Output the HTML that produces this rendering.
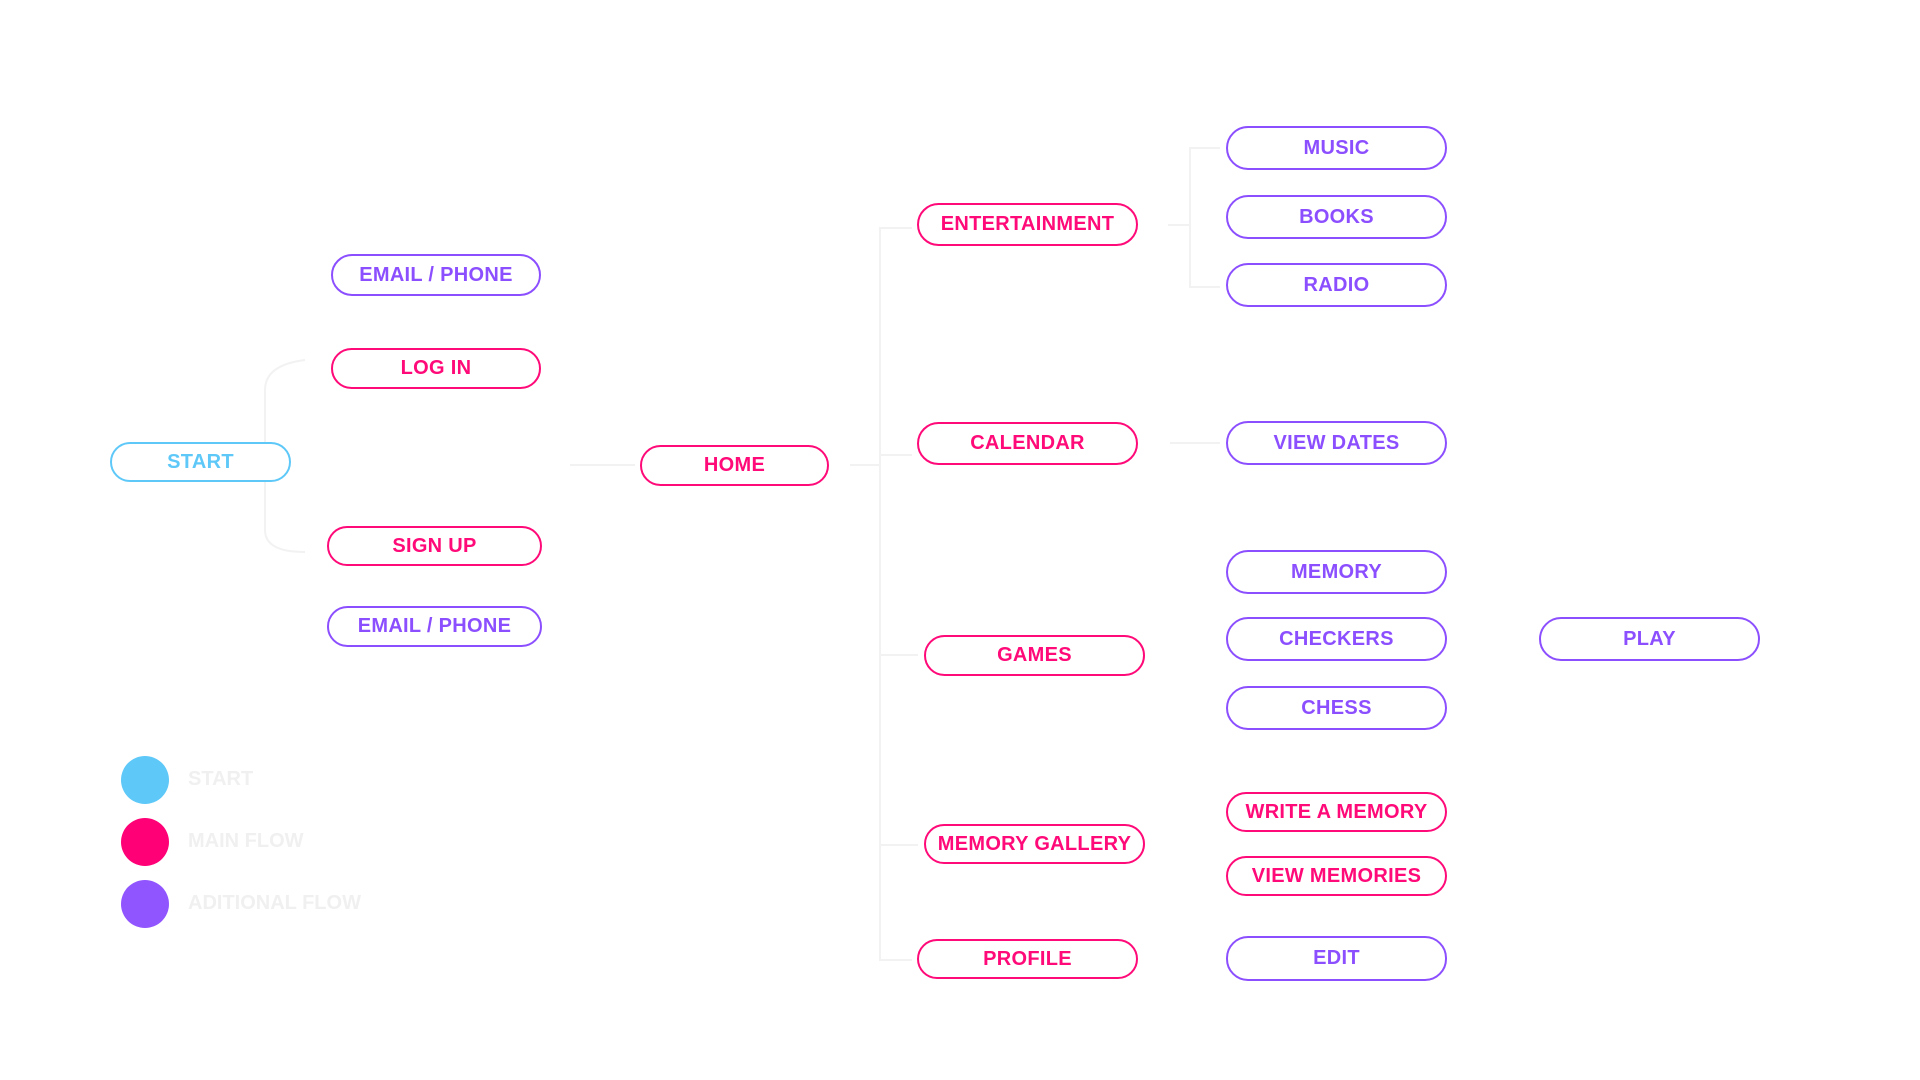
<!DOCTYPE html>
<html><head><meta charset="utf-8"><style>
body{margin:0;width:1920px;height:1080px;background:#fff;position:relative;overflow:hidden;font-family:"Liberation Sans",sans-serif}
.n{position:absolute;box-sizing:border-box;border:2.5px solid;border-radius:22px;display:flex;align-items:center;justify-content:center;font-weight:bold;font-size:20px;letter-spacing:0.3px}
.p{border-color:#ff0a78;color:#ff0a78}
.v{border-color:#8c4fff;color:#8c4fff}
.b{border-color:#5ec8f8;color:#5ec8f8}
.c{position:absolute;width:48px;height:48px;border-radius:50%}
.l{position:absolute;left:188px;font-size:20px;font-weight:bold;color:#f0f0f0}
svg{position:absolute;left:0;top:0}
</style></head><body>
<svg width="1920" height="1080" fill="none" stroke="#f2f2f2" stroke-width="2">
<path d="M265 442 V390 Q265 365 305 360"/><path d="M265 481 V530 Q265 552 305 552"/>
<path d="M570 465 H635"/><path d="M850 465 H880 V228 H912"/><path d="M880 455 H912"/><path d="M880 465 V655 H918"/><path d="M880 655 V845 H918"/><path d="M880 845 V960 H912"/>
<path d="M1168 225 H1190 V148 H1220"/><path d="M1190 225 V287 H1220"/><path d="M1170 443 H1220"/>
</svg>
<div class="n b" style="left:110px;top:442px;width:181px;height:40px">START</div>
<div class="n v" style="left:331px;top:254px;width:210px;height:42px">EMAIL / PHONE</div>
<div class="n p" style="left:331px;top:348px;width:210px;height:41px">LOG IN</div>
<div class="n p" style="left:327px;top:526px;width:215px;height:40px">SIGN UP</div>
<div class="n v" style="left:327px;top:606px;width:215px;height:41px">EMAIL / PHONE</div>
<div class="n p" style="left:640px;top:445px;width:189px;height:41px">HOME</div>
<div class="n p" style="left:917px;top:203px;width:221px;height:43px">ENTERTAINMENT</div>
<div class="n p" style="left:917px;top:422px;width:221px;height:43px">CALENDAR</div>
<div class="n p" style="left:924px;top:635px;width:221px;height:41px">GAMES</div>
<div class="n p" style="left:924px;top:824px;width:221px;height:40px">MEMORY GALLERY</div>
<div class="n p" style="left:917px;top:939px;width:221px;height:40px">PROFILE</div>
<div class="n v" style="left:1226px;top:126px;width:221px;height:44px">MUSIC</div>
<div class="n v" style="left:1226px;top:195px;width:221px;height:44px">BOOKS</div>
<div class="n v" style="left:1226px;top:263px;width:221px;height:44px">RADIO</div>
<div class="n v" style="left:1226px;top:421px;width:221px;height:44px">VIEW DATES</div>
<div class="n v" style="left:1226px;top:550px;width:221px;height:44px">MEMORY</div>
<div class="n v" style="left:1226px;top:617px;width:221px;height:44px">CHECKERS</div>
<div class="n v" style="left:1226px;top:686px;width:221px;height:44px">CHESS</div>
<div class="n p" style="left:1226px;top:792px;width:221px;height:40px">WRITE A MEMORY</div>
<div class="n p" style="left:1226px;top:856px;width:221px;height:40px">VIEW MEMORIES</div>
<div class="n v" style="left:1226px;top:936px;width:221px;height:45px">EDIT</div>
<div class="n v" style="left:1539px;top:617px;width:221px;height:44px">PLAY</div>
<div class="c" style="left:121px;top:756px;background:#5ec8f8"></div>
<div class="c" style="left:121px;top:818px;background:#ff0077"></div>
<div class="c" style="left:121px;top:880px;background:#9155ff"></div>
<div class="l" style="top:768px">START</div>
<div class="l" style="top:830px">MAIN FLOW</div>
<div class="l" style="top:892px">ADITIONAL FLOW</div>
</body></html>
